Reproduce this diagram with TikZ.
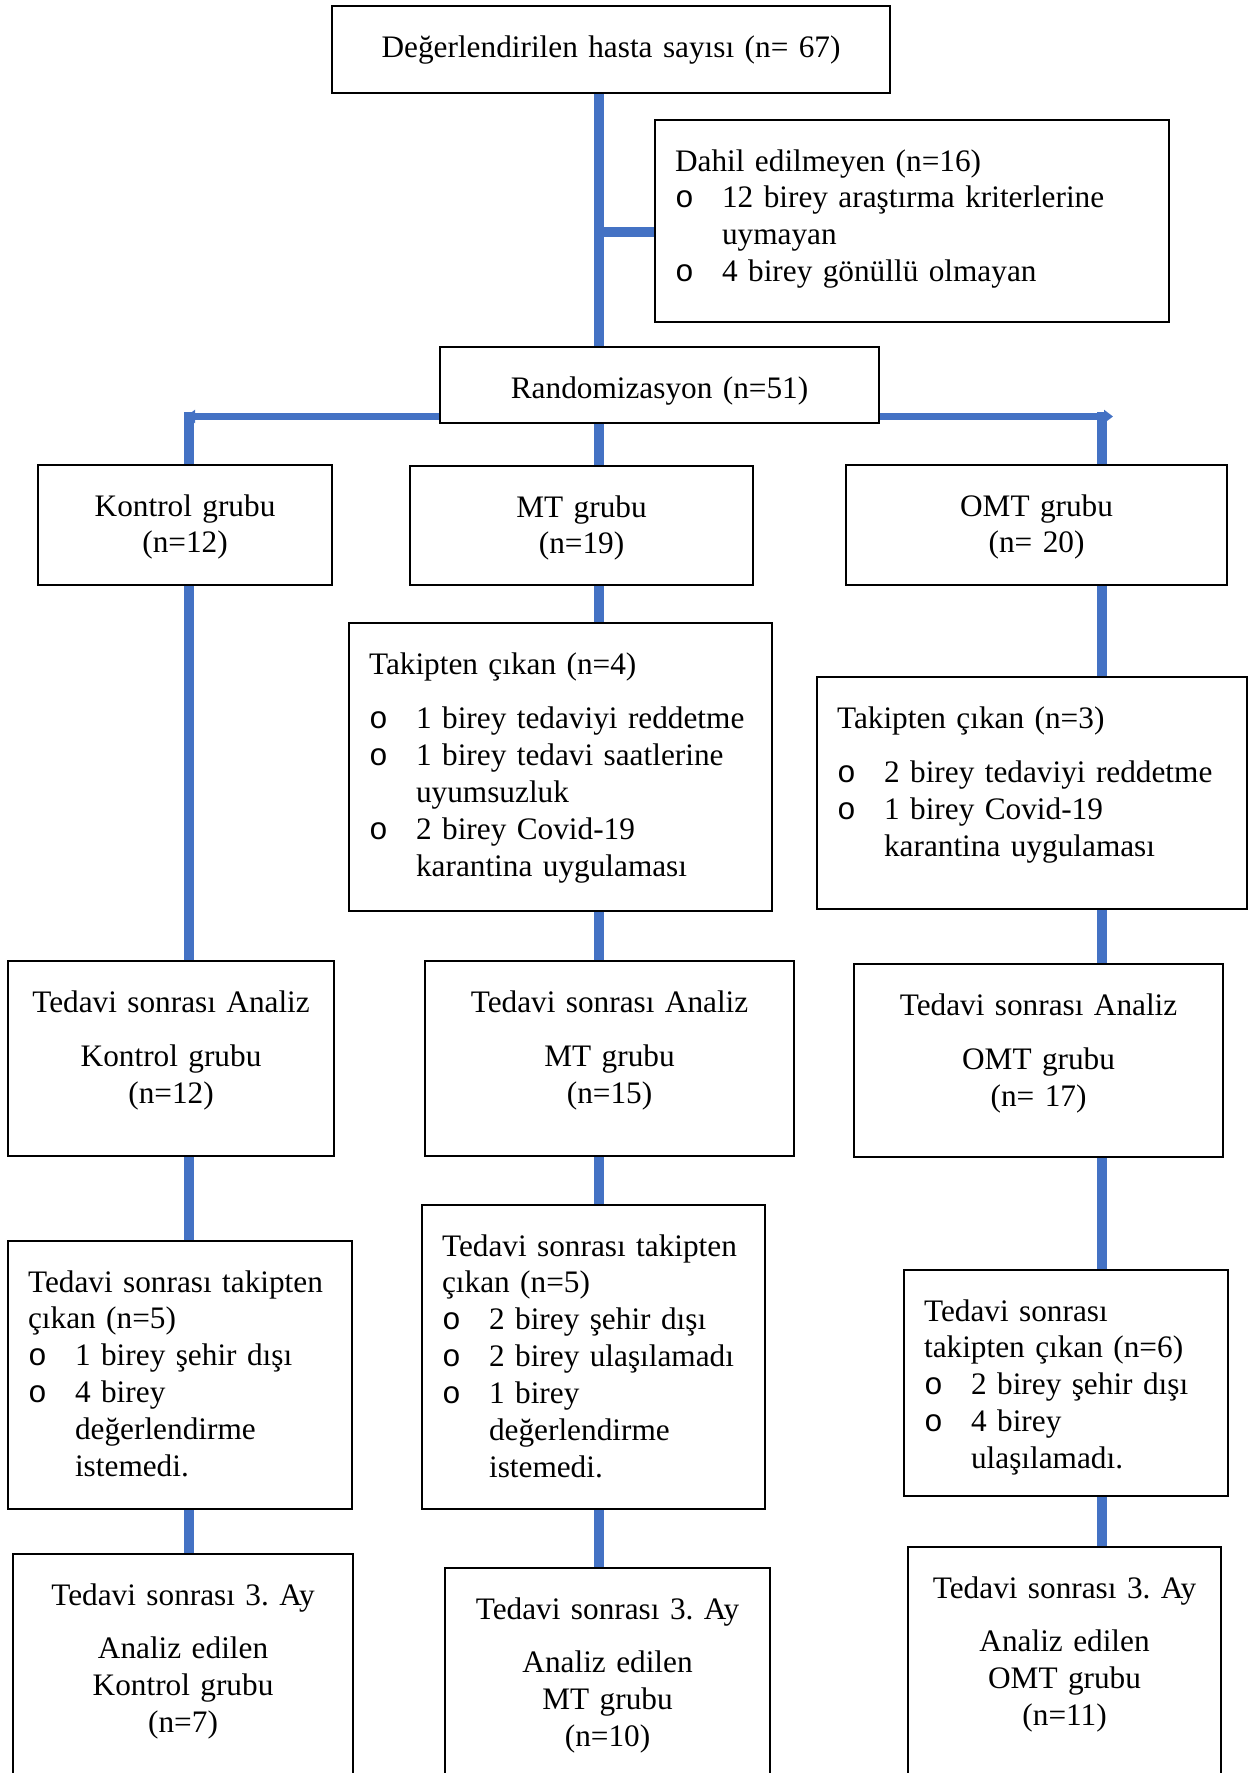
\documentclass[tikz,border=0pt]{standalone}
\usepackage{fontspec}
\setmainfont{Liberation Serif}
\setmonofont{Liberation Mono}
\usetikzlibrary{arrows.meta}

\definecolor{lineblue}{HTML}{4472C4}
\frenchspacing
\newcommand{\madde}[1]{\par\hangindent=0.47cm\hangafter=1\noindent\makebox[0.47cm][l]{\texttt{o}}#1}

\tikzset{
  every node/.style={font=\fontsize{8.9}{10.5}\selectfont},
  box/.style={draw, fill=white, line width=0.6pt, inner sep=0pt, anchor=north west, text height=0.51cm, align=center},
  lbox/.style={box, align=left, execute at begin node={\leftskip=0.2cm}},
  flow/.style={draw=lineblue, line width=2.7pt},
  hflow/.style={draw=lineblue, line width=2pt}
}

\begin{document}
\begin{tikzpicture}
\useasboundingbox (0,0) rectangle (12.5,-17.73);
\clip (0,0) rectangle (12.5,-17.73);

% columns of the flow lines
\coordinate (mcol) at (5.99,0);
\coordinate (fork) at (6.00,-2.32);
\coordinate (kcorner) at (1.89,-4.12);
\coordinate (ocorner) at (11.02,-4.12);
\coordinate (kend) at (1.86,-4.165);
\coordinate (oend) at (11.13,-4.165);

% screening
\node[box, text width=5.58cm, text depth=0.36cm] (eval) at (3.31,-0.05) {Değerlendirilen hasta sayısı (n= 67)};
\node[lbox, text width=5.14cm, text depth=1.51cm] (excl) at (6.54,-1.19) {Dahil edilmeyen (n=16)\madde{12 birey araştırma kriterlerine\newline uymayan}\madde{4 birey gönüllü olmayan}\par};
\node[box, text width=4.39cm, text depth=0.25cm] (rand) at (4.39,-3.46) {Randomizasyon (n=51)};

% groups
\node[box, text width=2.94cm, text depth=0.69cm] (ctrl) at (0.37,-4.64) {Kontrol grubu\\(n=12)};
\node[box, text width=3.43cm, text depth=0.68cm] (mt) at (4.09,-4.65) {MT grubu\\(n=19)};
\node[box, text width=3.81cm, text depth=0.69cm] (omt) at (8.45,-4.64) {OMT grubu\\(n= 20)};

\node[lbox, text width=4.23cm, text depth=2.37cm] (mtdrop) at (3.48,-6.22) {Takipten çıkan (n=4)\par\vspace{0.18cm}\madde{1 birey tedaviyi reddetme}\madde{1 birey tedavi saatlerine\newline uyumsuzluk}\madde{2 birey Covid-19\newline karantina uygulaması}\par};
\node[lbox, text width=4.30cm, text depth=1.81cm] (omtdrop) at (8.16,-6.76) {Takipten çıkan (n=3)\par\vspace{0.18cm}\madde{2 birey tedaviyi reddetme}\madde{1 birey Covid-19\newline karantina uygulaması}\par};

% after treatment
\node[box, text width=3.26cm, text depth=1.44cm] (ctrlan) at (0.07,-9.60) {Tedavi sonrası Analiz\\[0.18cm]Kontrol grubu\\(n=12)};
\node[box, text width=3.69cm, text depth=1.44cm] (mtan) at (4.24,-9.60) {Tedavi sonrası Analiz\\[0.18cm]MT grubu\\(n=15)};
\node[box, text width=3.69cm, text depth=1.42cm] (omtan) at (8.53,-9.63) {Tedavi sonrası Analiz\\[0.18cm]OMT grubu\\(n= 17)};

\node[lbox, text width=3.44cm, text depth=2.17cm] (ctrldrop) at (0.07,-12.40) {Tedavi sonrası takipten\\çıkan (n=5)\madde{1 birey şehir dışı}\madde{4 birey\newline değerlendirme\newline istemedi.}\par};
\node[lbox, text width=3.43cm, text depth=2.53cm] (mtdrop2) at (4.21,-12.04) {Tedavi sonrası takipten\\çıkan (n=5)\madde{2 birey şehir dışı}\madde{2 birey ulaşılamadı}\madde{1 birey\newline değerlendirme\newline istemedi.}\par};
\node[lbox, text width=3.24cm, text depth=1.75cm] (omtdrop2) at (9.03,-12.69) {Tedavi sonrası\\takipten çıkan (n=6)\madde{2 birey şehir dışı}\madde{4 birey\newline ulaşılamadı.}\par};

% third month
\node[box, text width=3.40cm, text depth=2.40cm] (ctrl3) at (0.12,-15.53) {Tedavi sonrası 3. Ay\\[0.17cm]Analiz edilen\\Kontrol grubu\\(n=7)};
\node[box, text width=3.25cm, text depth=2.40cm] (mt3) at (4.44,-15.67) {Tedavi sonrası 3. Ay\\[0.17cm]Analiz edilen\\MT grubu\\(n=10)};
\node[box, text width=3.13cm, text depth=2.40cm] (omt3) at (9.07,-15.46) {Tedavi sonrası 3. Ay\\[0.17cm]Analiz edilen\\OMT grubu\\(n=11)};

% flow lines
\draw[flow] (eval.south -| mcol) -- (rand.north -| mcol);
\draw[flow] (fork) -- (fork -| excl.west);
\draw[hflow, -{Triangle[length=0.09cm,width=0.13cm]}] (kend -| rand.west) -- (kend);
\draw[hflow, -{Triangle[length=0.09cm,width=0.13cm]}] (oend -| rand.east) -- (oend);

\draw[flow] (kcorner) -- (ctrl.north -| kcorner);
\draw[flow] (ctrl.south -| kcorner) -- (ctrlan.north -| kcorner);
\draw[flow] (ctrlan.south -| kcorner) -- (ctrldrop.north -| kcorner);
\draw[flow] (ctrldrop.south -| kcorner) -- (ctrl3.north -| kcorner);

\draw[flow] (rand.south -| mcol) -- (mt.north -| mcol);
\draw[flow] (mt.south -| mcol) -- (mtdrop.north -| mcol);
\draw[flow] (mtdrop.south -| mcol) -- (mtan.north -| mcol);
\draw[flow] (mtan.south -| mcol) -- (mtdrop2.north -| mcol);
\draw[flow] (mtdrop2.south -| mcol) -- (mt3.north -| mcol);

\draw[flow] (ocorner) -- (omt.north -| ocorner);
\draw[flow] (omt.south -| ocorner) -- (omtdrop.north -| ocorner);
\draw[flow] (omtdrop.south -| ocorner) -- (omtan.north -| ocorner);
\draw[flow] (omtan.south -| ocorner) -- (omtdrop2.north -| ocorner);
\draw[flow] (omtdrop2.south -| ocorner) -- (omt3.north -| ocorner);
\end{tikzpicture}
\end{document}
